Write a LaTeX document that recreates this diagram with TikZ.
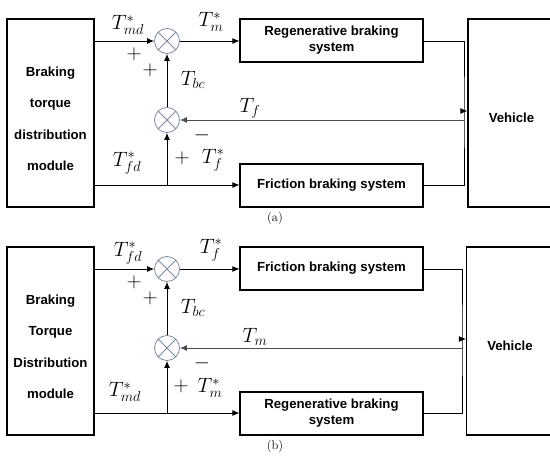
\documentclass[tikz,border=0pt]{standalone}
\usepackage{fontspec}
\setsansfont{Liberation Sans}
\usetikzlibrary{arrows.meta}
\definecolor{sumgray}{RGB}{125,138,160}

\begin{document}
\begin{tikzpicture}[x=1pt, y=-1pt, >={Latex[length=7pt,width=6pt]},
  every node/.style={font=\fontsize{20}{24}\selectfont},
  block/.style={draw, line width=1.1pt, inner sep=0pt, align=center,
    font=\sffamily\bfseries\fontsize{13.2}{16}\selectfont},
  tall/.style={block, minimum width=87pt, minimum height=188pt},
  sysbox/.style={block, minimum width=183pt, minimum height=43pt},
  boxtext/.style={align=center, inner sep=0pt,
    font=\sffamily\bfseries\fontsize{13.2}{31.5}\selectfont},
  sumj/.style={circle, draw=sumgray, line width=0.8pt, minimum size=25pt, inner sep=0pt},
  sig/.style={->, line width=0.9pt},
  caption/.style={font=\rmfamily\fontsize{12.5}{14}\selectfont}]
  \useasboundingbox (0,0) rectangle (550,458);

  % (a) regenerative braking compensated
  \node[tall] (tdma) at (50.5,113) {};
  \node[boxtext] (tdmtxta) at (50.5,119) {Braking\\torque\\distribution\\module};
  \node[sysbox] (regena) at (331.5,40.5) {Regenerative braking\\system};
  \node[sysbox] (frica) at (331.5,185.5) {Friction braking system};
  \node[tall] (veha) at (511.5,113) {};
  \node[boxtext] (vehtxta) at (511.5,118) {Vehicle};
  \node[sumj] (suma) at (167,41) {};
  \node[sumj] (subta) at (167,120) {};
  \coordinate (tapa) at (167,185);
  \coordinate (joina) at (464,111);

  \draw[sig] (tdma.east |- suma) -- (suma);
  \draw[sig] (suma) -- (suma -| regena.west);
  \draw[sig] (tdma.east |- tapa) -- (tapa -| frica.west);
  \draw[sig] (tapa) -- (subta);
  \draw[sig] (subta) -- (suma);
  \draw[line width=0.9pt] (regena.east |- suma) -| (joina) |- (frica.east |- tapa);
  \draw[sig] (joina) -- (joina -| veha.west);
  \draw[sig, black!70] (joina |- subta) -- (subta);

  \node (tmda) at (128,25) {$T^*_{md}$};
  \node (tma) at (211,22) {$T^*_{m}$};
  \node (p1a) at (134,54) {$+$};
  \node (p2a) at (150,70) {$+$};
  \node (tbca) at (193,80) {$T_{bc}$};
  \node (tfa) at (250,108) {$T_{f}$};
  \node (m1a) at (202,135) {$-$};
  \node (p3a) at (182,158) {$+$};
  \node (tfda) at (127,163) {$T^*_{fd}$};
  \node (tfsa) at (213,160) {$T^*_{f}$};
  \node[caption] (capa) at (275,218) {(a)};

  % (b) friction braking compensated
  \node[tall] (tdmb) at (50.5,341) {};
  \node[boxtext] (tdmtxtb) at (50.5,347) {Braking\\Torque\\Distribution\\module};
  \node[sysbox] (fricb) at (331.5,268.5) {Friction braking system};
  \node[sysbox] (regenb) at (331.5,413.5) {Regenerative braking\\system};
  \node[tall] (vehb) at (510,341) {};
  \node[boxtext] (vehtxtb) at (510,346) {Vehicle};
  \node[sumj] (sumb) at (167,269) {};
  \node[sumj] (subtb) at (167,348) {};
  \coordinate (tapb) at (167,413);
  \coordinate (joinb) at (462,339);

  \draw[sig] (tdmb.east |- sumb) -- (sumb);
  \draw[sig] (sumb) -- (sumb -| fricb.west);
  \draw[sig] (tdmb.east |- tapb) -- (tapb -| regenb.west);
  \draw[sig] (tapb) -- (subtb);
  \draw[sig] (subtb) -- (sumb);
  \draw[line width=0.9pt] (fricb.east |- sumb) -| (joinb) |- (regenb.east |- tapb);
  \draw[sig] (joinb) -- (joinb -| vehb.west);
  \draw[sig, black!70] (joinb |- subtb) -- (subtb);

  \node (tfdb) at (128,253) {$T^*_{fd}$};
  \node (tfsb) at (211,250) {$T^*_{f}$};
  \node (p1b) at (134,282) {$+$};
  \node (p2b) at (150,298) {$+$};
  \node (tbcb) at (193,308) {$T_{bc}$};
  \node (tmb) at (255,337) {$T_{m}$};
  \node (m1b) at (202,363) {$-$};
  \node (p3b) at (181,386) {$+$};
  \node (tmdb) at (125,392) {$T^*_{md}$};
  \node (tmsb) at (210,388) {$T^*_{m}$};
  \node[caption] (capb) at (275,446) {(b)};

  % crosses in the summing junctions
  \foreach \s in {suma,subta,sumb,subtb}
    \draw[sumgray, line width=0.8pt] (\s.45) -- (\s.225) (\s.135) -- (\s.315);
\end{tikzpicture}
\end{document}
